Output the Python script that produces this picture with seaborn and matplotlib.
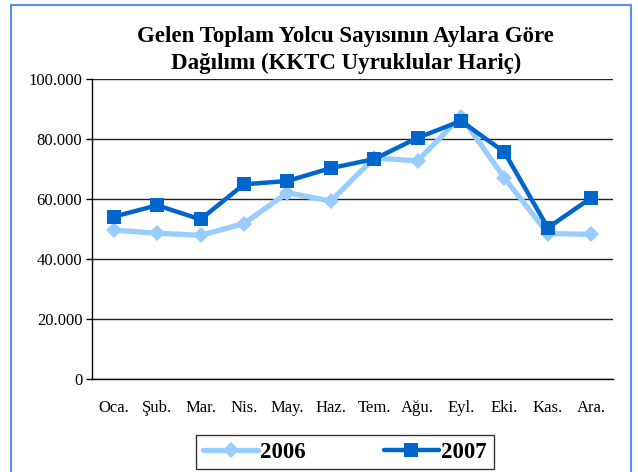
import numpy as np
import pandas as pd
import seaborn as sns
import matplotlib.pyplot as plt
from matplotlib.patches import Rectangle
from matplotlib.ticker import FuncFormatter

months = ["Oca.", "Şub.", "Mar.", "Nis.", "May.", "Haz.", "Tem.", "Ağu.", "Eyl.", "Eki.", "Kas.", "Ara."]
v2006 = [49600, 48600, 47900, 51800, 62100, 59300, 73700, 72700, 87500, 67000, 48500, 48200]
v2007 = [54100, 57900, 53200, 64900, 66000, 70300, 73300, 80400, 86000, 75600, 50400, 60400]

df = pd.DataFrame({
    "ay": months * 2,
    "yolcu": v2006 + v2007,
    "yil": ["2006"] * 12 + ["2007"] * 12,
})

sns.set_theme(style="white")
plt.rcParams["font.family"] = ["Liberation Serif", "DejaVu Serif"]
plt.rcParams["text.color"] = "black"
plt.rcParams["xtick.color"] = "black"
plt.rcParams["ytick.color"] = "black"

fig = plt.figure(figsize=(6.38, 4.72), dpi=100)
ax = fig.add_axes([92 / 638, 1 - 379 / 472, (613 - 92) / 638, 300 / 472])

sns.lineplot(data=df[df.yil == "2006"], x="ay", y="yolcu", ax=ax, color="#99CCFF",
             linewidth=3.8, marker="D", markersize=8, markeredgewidth=0, label="2006", sort=False)
sns.lineplot(data=df[df.yil == "2007"], x="ay", y="yolcu", ax=ax, color="#0066CC",
             linewidth=3.2, marker="s", markersize=9.5, markeredgewidth=0, label="2007", sort=False)

ax.set_xlim(-0.5, 11.5)
ax.set_ylim(0, 100000)
ax.set_yticks(np.arange(0, 100001, 20000))
ax.yaxis.set_major_formatter(FuncFormatter(lambda v, p: "0" if v == 0 else f"{int(v):,}".replace(",", ".")))
ax.yaxis.grid(True, color="#222222", linewidth=1)
ax.set_axisbelow(True)
for s in ["top", "right"]:
    ax.spines[s].set_visible(False)
ax.spines["left"].set_color("black")
ax.spines["bottom"].set_color("black")
ax.spines["left"].set_linewidth(1)
ax.spines["bottom"].set_linewidth(1)
ax.tick_params(axis="y", left=True, length=4, width=1, color="black", labelsize=12, labelcolor="black", pad=3)
ax.tick_params(axis="x", bottom=False, labelsize=12, labelcolor="black", pad=9)
ax.set_xlabel("")
ax.set_ylabel("")
ax.get_legend().remove()

fig.text(0.542, 1 - 50 / 472, "Gelen Toplam Yolcu Sayısının Aylara Göre\nDağılımı (KKTC Uyruklular Hariç)",
         ha="center", va="center", fontsize=16.5, fontweight="bold", linespacing=1.4, color="black")

handles, labels = ax.get_legend_handles_labels()
leg = fig.legend(handles, labels, loc="center", bbox_to_anchor=(345 / 638, 1 - 452 / 472), ncol=2,
                 frameon=True, fancybox=False, prop={"weight": "bold", "size": 16.5},
                 handlelength=2.4, columnspacing=3.4, handletextpad=0.1, borderpad=0.3,
                 borderaxespad=0, labelcolor="black")
leg.get_frame().set_edgecolor("black")
leg.get_frame().set_linewidth(1)

fig.patches.append(Rectangle((11 / 638, -0.05), (631 - 11) / 638, 1.05 - 5 / 472, transform=fig.transFigure,
                             fill=False, edgecolor="#5B8CF0", linewidth=1.5))

fig.savefig("out.png", dpi=100)
